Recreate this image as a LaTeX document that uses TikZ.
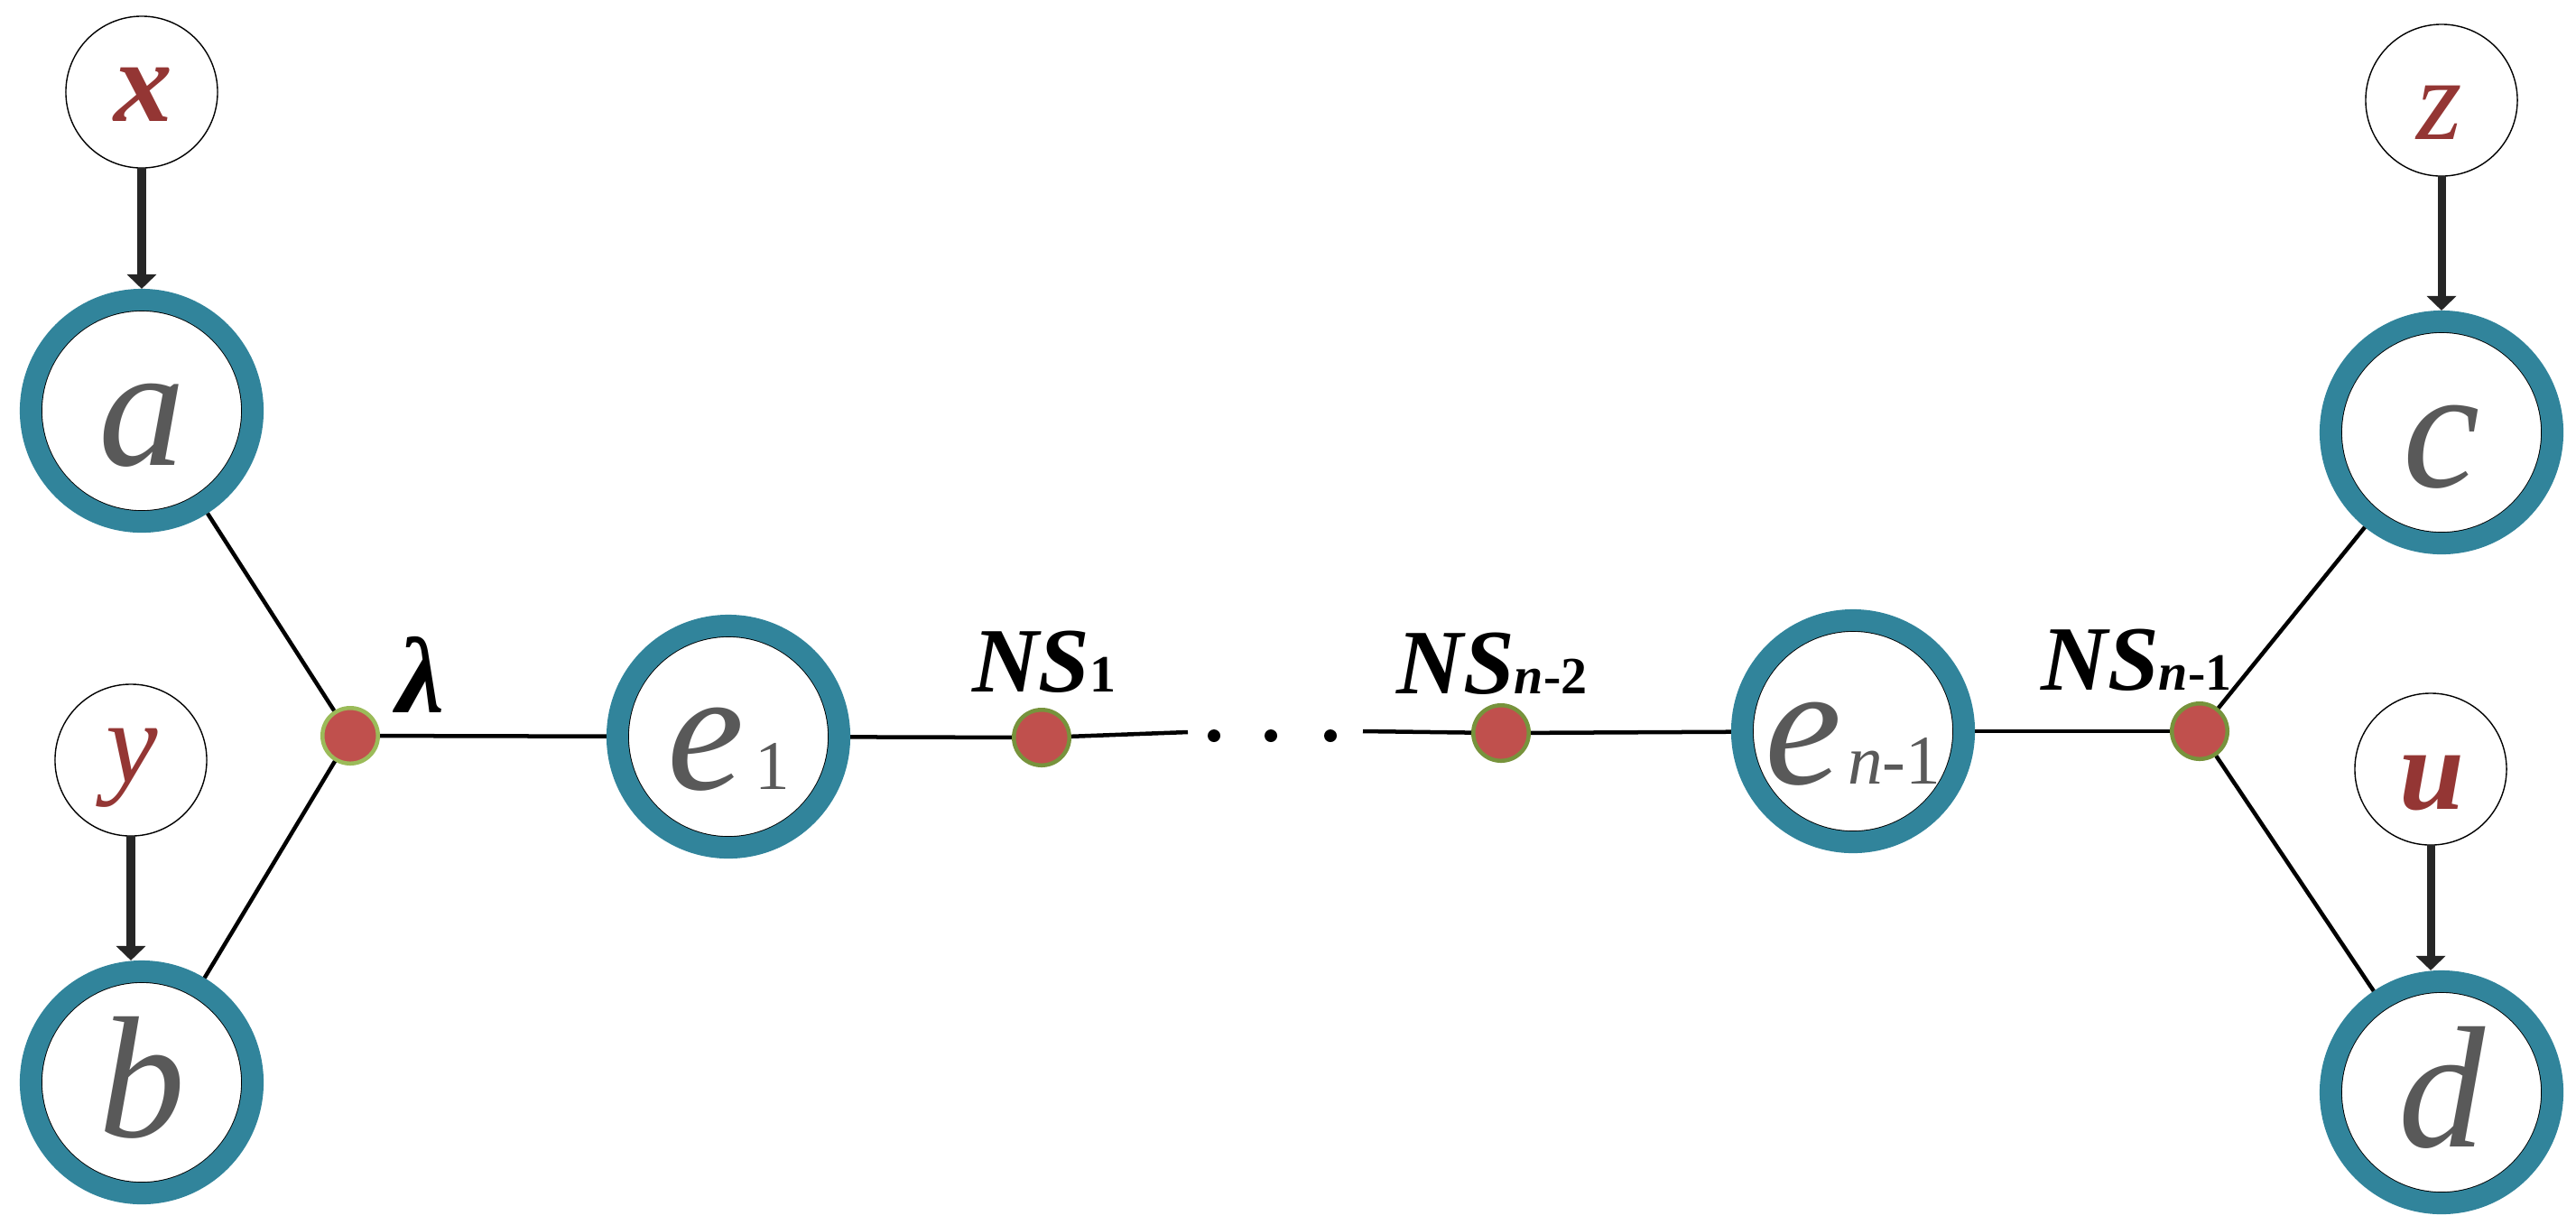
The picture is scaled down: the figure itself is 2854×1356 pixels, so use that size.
\documentclass[tikz,border=0pt]{standalone}
\usepackage{fontspec}
\setmainfont{Liberation Serif}
\usetikzlibrary{arrows.meta}
\definecolor{ringteal}{HTML}{31849B}
\definecolor{lettergray}{HTML}{595959}
\definecolor{varred}{HTML}{943634}
\definecolor{dotred}{HTML}{C0504D}
\definecolor{dotgreen}{HTML}{77933C}
\definecolor{dotlightgreen}{HTML}{9BBB59}
\definecolor{arrowgray}{HTML}{262626}
\begin{document}
\begin{tikzpicture}[x=0.01cm,y=-0.01cm,
  ringnode/.style={circle, draw=ringteal, line width=0.24cm, fill=white,
    minimum size=2.46cm, inner sep=0pt, outer sep=0.12cm,
    path picture={\draw[black, line width=0.4pt] (path picture bounding box.center) circle (1.108cm);}},
  varnode/.style={circle, draw=black, line width=0.4pt, fill=white,
    minimum size=1.68cm, inner sep=0pt, outer sep=0pt},
  junction/.style={circle, fill=dotred, draw=dotgreen, line width=0.045cm,
    minimum size=0.615cm, inner sep=0pt, outer sep=0.0225cm},
  ellipsisdot/.style={circle, fill=black, minimum size=0.14cm, inner sep=0pt},
  link/.style={draw=black, line width=0.045cm},
  feed/.style={draw=arrowgray, line width=0.09cm, -{Triangle[width=0.32cm,length=0.16cm]}},
  bigletter/.style={text=lettergray, font=\fontsize{54.6pt}{60pt}\selectfont\itshape, anchor=base, inner sep=0pt},
  varletter/.style={text=varred, font=\fontsize{36.8pt}{40pt}\selectfont\itshape, anchor=base, inner sep=0pt},
  nslabel/.style={text=black, font=\fontsize{29pt}{32pt}\selectfont\bfseries, anchor=base, inner sep=0pt}
]
\useasboundingbox (0,0) rectangle (2854,1356);

% ring nodes
\node[ringnode] (a) at (157,455) {};
\node[ringnode] (b) at (157,1199) {};
\node[ringnode] (e1) at (807,816) {};
\node[ringnode] (en) at (2053,810) {};
\node[ringnode] (c) at (2705,479) {};
\node[ringnode] (d) at (2705,1210) {};

% variable nodes
\node[varnode] (x) at (157,102) {};
\node[varnode] (y) at (145,842) {};
\node[varnode] (z) at (2705,111) {};
\node[varnode] (u) at (2693,852) {};

% junctions
\node[junction, draw=dotlightgreen] (lam) at (388,815) {};
\node[junction] (ns1) at (1154,817) {};
\node[junction] (nsn2) at (1663,812) {};
\node[junction] (nsn1) at (2437,810) {};

% ellipsis dots
\node[ellipsisdot] (el1) at (1345,815) {};
\node[ellipsisdot] (el2) at (1408,815) {};
\node[ellipsisdot] (el3) at (1474,815) {};
\coordinate (gapL) at (1316,811);
\coordinate (gapR) at (1510,810);

% letters
\node[bigletter] (al) at (157,515) {a};
\node[bigletter] (bl) at (157,1259) {b};
\node[bigletter] (cl) at (2705,539) {c};
\node[bigletter] (dl) at (2705,1270) {d};
\node[bigletter] (e1l) at (807,874) {e\kern0.12cm{\fontsize{22pt}{24pt}\selectfont\upshape 1}};
\node[bigletter] (enl) at (2053,868) {e\kern0.06cm{\fontsize{22pt}{24pt}\selectfont n\upshape -1}};

\node[varletter, font=\fontsize{36.8pt}{40pt}\selectfont\bfseries\itshape] (xl) at (159,134) {x};
\node[varletter] (yl) at (146,866) {y};
\node[varletter] (zl) at (2703,154) {z};
\node[varletter, font=\fontsize{36.8pt}{40pt}\selectfont\bfseries\itshape] (ul) at (2694,896) {u};

% junction labels
\node[nslabel, font=\fontsize{34pt}{36pt}\selectfont\bfseries\itshape] (laml) at (466,789) {λ};
\node[nslabel] (ns1l) at (1157,766) {\textit{NS}{\fontsize{16.5pt}{18pt}\selectfont 1}};
\node[nslabel] (nsn2l) at (1653,768) {\textit{NS}{\fontsize{16.5pt}{18pt}\selectfont\textit{n}-2}};
\node[nslabel] (nsn1l) at (2367,764) {\textit{NS}{\fontsize{16.5pt}{18pt}\selectfont\textit{n}-1}};

% connectors
\draw[link] (lam) -- (a);
\draw[link] (lam) -- (b);
\draw[link] (lam) -- (e1);
\draw[link] (e1) -- (ns1);
\draw[link] (ns1) -- (gapL);
\draw[link] (gapR) -- (nsn2);
\draw[link] (nsn2) -- (en);
\draw[link] (en) -- (nsn1);
\draw[link] (nsn1) -- (c);
\draw[link] (nsn1) -- (d);

% arrows
\draw[feed] (x) -- (a);
\draw[feed] (y.south) -- (y.south |- b.north);
\draw[feed] (z) -- (c);
\draw[feed] (u.south) -- (u.south |- d.north);
\end{tikzpicture}
\end{document}
